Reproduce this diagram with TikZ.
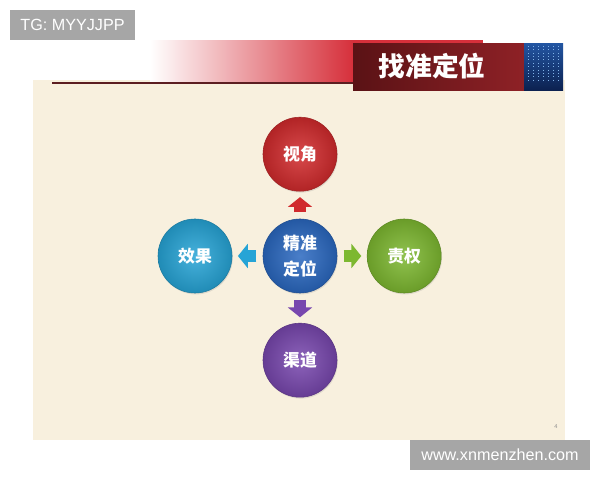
\documentclass[tikz,border=0pt]{standalone}
\usepackage{fontspec}
\newfontfamily\cjk{Noto Sans CJK SC}
\newfontfamily\wm{Liberation Sans}
\usepackage{tikz}
\usetikzlibrary{positioning,arrows.meta,shadows}

\definecolor{slide}{HTML}{F8F0DE}
\definecolor{hdrred}{HTML}{D6303B}
\definecolor{boxdark}{HTML}{5A1215}
\definecolor{boxlight}{HTML}{8E2126}
\definecolor{rule}{HTML}{5C1E21}
\definecolor{striptop}{HTML}{2356A3}
\definecolor{stripbot}{HTML}{0C2150}
\definecolor{stripdot}{HTML}{7FB2E8}
\definecolor{wmgray}{HTML}{A6A6A6}
\definecolor{viewred}{HTML}{D12A2C}
\definecolor{coreblue}{HTML}{2A68C0}
\definecolor{effcyan}{HTML}{26A4D6}
\definecolor{dutygreen}{HTML}{7DB830}
\definecolor{chanpurple}{HTML}{7847AE}

\begin{document}
\begin{tikzpicture}[x=0.025cm,y=-0.025cm,
                    node distance=0.72cm,
                    ball/.style={circle,minimum size=1.85cm,inner sep=0pt,
                                 inner color=#1!85!white,outer color=#1!85!black,
                                 draw=#1!75!black,line width=0.4pt,
                                 drop shadow={opacity=0.2,shadow xshift=0.6pt,shadow yshift=-1pt},
                                 text=white,align=center,
                                 font=\cjk\bfseries\fontsize{12}{19}\selectfont},
                    flow/.style={draw=#1,line width=9pt,
                                 -{Triangle[width=17pt,length=7pt]},
                                 shorten <=4.5pt,shorten >=4pt},
                    wmbox/.style={fill=wmgray,text=white,inner sep=0pt,
                                  font=\wm\fontsize{11.5}{13}\selectfont}]
  \useasboundingbox[fill=white] (0,0) rectangle (600,480);

  % slide
  \fill[slide] (33,80) rectangle (565,440);
  \shade[left color=white,right color=hdrred] (150,40) rectangle (353,81);
  \fill[hdrred] (353,40) rectangle (483,44);
  \draw[rule,line width=1.4pt] (52,83) -- (353,83);
  \shade[left color=boxdark,right color=boxlight] (353,43) rectangle (524,90);
  \shade[top color=striptop,bottom color=stripbot] (524,43) rectangle (563,90);
  \foreach \x in {528,533,...,560}
    \draw[stripdot,dotted,line width=0.4pt] (\x,46) -- (\x,82);
  \node[text=white,font=\cjk\bfseries\fontsize{19}{19}\selectfont] (title) at (432,66) {找准定位};
  \node[text=black!45,font=\wm\fontsize{4}{4}\selectfont] (page) at (556,427) {4};

  % diagram
  \node[ball=coreblue] (core) at (300,256) {精准\\定位};
  \node[ball=viewred,above=0.68cm of core] (view) {视角};
  \node[ball=effcyan,left=0.76cm of core] (effect) {效果};
  \node[ball=dutygreen,right=0.74cm of core] (duty) {责权};
  \node[ball=chanpurple,below=0.74cm of core] (channel) {渠道};

  \draw[flow=viewred] (core) -- (view);
  \draw[flow=effcyan] (core) -- (effect);
  \draw[flow=dutygreen] (core) -- (duty);
  \draw[flow=chanpurple] (core) -- (channel);

  % watermarks
  \node[wmbox,minimum width=3.125cm,minimum height=0.75cm] (tg) at (72.5,25) {TG: MYYJJPP};
  \node[wmbox,minimum width=4.5cm,minimum height=0.75cm] (site) at (500,455) {www.xnmenzhen.com};
\end{tikzpicture}
\end{document}
